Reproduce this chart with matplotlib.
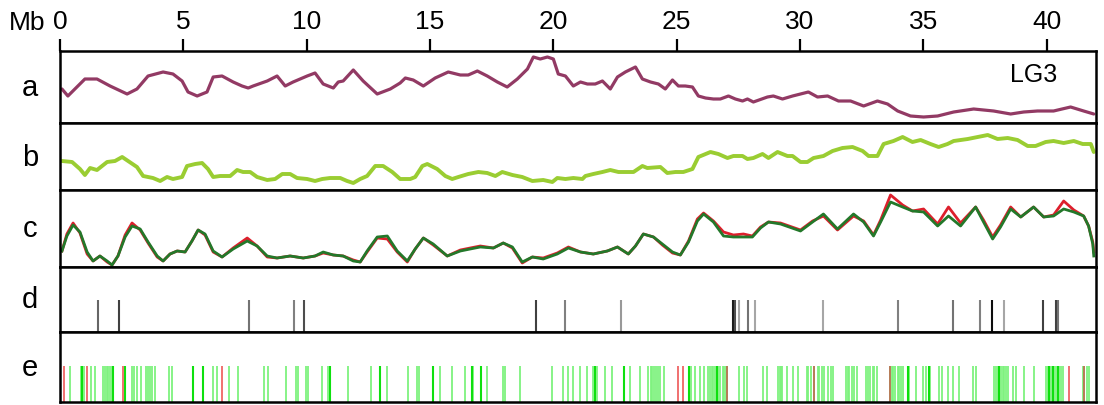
import matplotlib
matplotlib.use("Agg")
import matplotlib.pyplot as plt

plt.rcParams['font.family'] = ['Liberation Sans', 'DejaVu Sans']

# genome position (Mb) and track values
x_max = 42.0
mb_ticks = [0, 5, 10, 15, 20, 25, 30, 35, 40]

# track a
a_pos = [0.08, 0.32, 1.01, 1.50, 2.03, 2.72, 3.12, 3.57, 4.18, 4.58,
         4.95, 5.19, 5.56, 5.96, 6.21, 6.57, 7.02, 7.38, 7.63, 7.83,
         8.40, 8.80, 9.13, 9.45, 10.02, 10.34, 10.67, 11.08, 11.28, 11.48,
         11.89, 12.29, 12.86, 13.39, 13.79, 14.00, 14.32, 14.73, 15.21, 15.74,
         16.23, 16.55, 16.92, 17.32, 17.73, 18.13, 18.54, 18.95, 19.19, 19.47,
         19.76, 20.00, 20.20, 20.49, 20.81, 21.10, 21.38, 21.70, 21.99, 22.31,
         22.60, 22.92, 23.33, 23.61, 23.94, 24.26, 24.54, 24.83, 25.07, 25.35,
         25.64, 25.88, 26.17, 26.49, 26.77, 27.10, 27.38, 27.67, 27.87, 28.11,
         28.68, 28.92, 29.29, 29.70, 30.02, 30.34, 30.71, 31.12, 31.56, 32.05,
         32.58, 33.14, 33.55, 33.96, 34.48, 35.01, 35.58, 36.23, 37.04, 37.85,
         38.54, 39.07, 39.63, 40.28, 40.97, 41.50, 41.91]
a_val = [34, 27, 44, 44, 37, 29, 34, 47, 51, 49,
         42, 31, 27, 31, 46, 47, 41, 37, 35, 37,
         42, 47, 37, 41, 47, 50, 39, 35, 41, 42,
         53, 42, 29, 34, 40, 45, 43, 37, 45, 51,
         48, 48, 52, 47, 41, 36, 44, 54, 66, 64,
         66, 64, 49, 47, 37, 41, 39, 39, 42, 34,
         46, 51, 56, 44, 41, 39, 34, 43, 37, 37,
         36, 27, 25, 24, 24, 27, 24, 22, 24, 21,
         26, 27, 24, 27, 29, 31, 26, 27, 22, 22,
         17, 22, 19, 12, 7, 6, 7, 11, 14, 12,
         9, 11, 12, 12, 16, 12, 9]

# track b
b_pos = [0.08, 0.49, 0.81, 1.01, 1.22, 1.50, 1.91, 2.23, 2.52, 2.76,
         3.12, 3.37, 3.77, 4.06, 4.34, 4.58, 4.95, 5.15, 5.48, 5.76,
         6.00, 6.21, 6.49, 6.90, 7.18, 7.42, 7.71, 7.99, 8.40, 8.72,
         9.01, 9.33, 9.61, 10.02, 10.34, 10.63, 10.95, 11.36, 11.64, 11.89,
         12.17, 12.45, 12.78, 13.10, 13.47, 13.79, 14.20, 14.40, 14.69, 14.89,
         15.29, 15.62, 15.90, 16.15, 16.55, 16.96, 17.32, 17.65, 17.93, 18.34,
         18.74, 19.15, 19.59, 19.96, 20.16, 20.49, 20.81, 21.18, 21.30, 21.62,
         21.99, 22.31, 22.64, 23.00, 23.25, 23.61, 23.81, 24.34, 24.62, 24.95,
         25.27, 25.64, 25.88, 26.37, 26.69, 27.06, 27.30, 27.67, 27.87, 28.11,
         28.48, 28.72, 29.09, 29.49, 29.70, 30.02, 30.30, 30.55, 30.95, 31.32,
         31.72, 32.13, 32.54, 32.78, 33.14, 33.39, 33.79, 34.16, 34.56, 34.89,
         35.29, 35.62, 35.98, 36.23, 36.80, 37.20, 37.61, 38.01, 38.42, 38.82,
         39.23, 39.55, 39.96, 40.28, 40.69, 41.10, 41.46, 41.79, 41.91]
b_val = [29, 28, 21, 15, 22, 20, 28, 29, 33, 29,
         23, 14, 12, 9, 13, 11, 13, 24, 26, 27,
         21, 13, 14, 14, 20, 18, 18, 13, 10, 11,
         16, 16, 12, 11, 9, 11, 12, 12, 9, 7,
         11, 14, 24, 24, 18, 11, 11, 13, 24, 26,
         21, 14, 11, 13, 16, 18, 17, 14, 18, 15,
         13, 9, 10, 8, 12, 11, 12, 11, 14, 16,
         18, 20, 18, 18, 18, 24, 22, 23, 17, 18,
         18, 21, 33, 38, 36, 32, 34, 34, 31, 32,
         36, 32, 38, 34, 34, 28, 28, 32, 34, 39,
         42, 43, 39, 34, 34, 46, 49, 53, 48, 50,
         46, 43, 46, 49, 51, 53, 55, 51, 52, 50,
         44, 44, 48, 49, 47, 49, 46, 46, 38]

# track c (two series)
c_pos = [0.08, 0.28, 0.53, 0.81, 1.10, 1.34, 1.62, 1.91, 2.11, 2.35,
         2.64, 2.92, 3.25, 3.57, 3.94, 4.18, 4.46, 4.75, 5.07, 5.35,
         5.60, 5.88, 6.21, 6.57, 7.02, 7.59, 7.99, 8.40, 8.80, 9.33,
         9.86, 10.34, 10.67, 11.08, 11.48, 11.89, 12.17, 12.45, 12.86, 13.27,
         13.67, 14.08, 14.40, 14.73, 15.13, 15.70, 16.23, 16.63, 17.04, 17.57,
         17.97, 18.34, 18.74, 19.15, 19.59, 20.16, 20.61, 21.10, 21.62, 22.19,
         22.60, 23.04, 23.33, 23.65, 24.06, 24.42, 24.83, 25.15, 25.48, 25.84,
         26.09, 26.49, 26.90, 27.30, 27.71, 28.07, 28.40, 28.72, 29.21, 30.02,
         30.51, 30.95, 31.52, 32.17, 32.58, 32.98, 33.27, 33.67, 34.16, 34.56,
         35.01, 35.58, 36.02, 36.51, 37.12, 37.44, 37.81, 38.13, 38.54, 38.95,
         39.47, 39.88, 40.28, 40.69, 41.10, 41.50, 41.70, 41.87, 41.91]
c_green = [16, 31, 42, 35, 15, 6, 11, 6, 2, 11,
           30, 41, 38, 25, 11, 6, 13, 16, 15, 26,
           37, 33, 16, 10, 18, 26, 21, 11, 9, 11,
           9, 11, 15, 12, 11, 6, 5, 16, 30, 31,
           16, 6, 18, 29, 23, 11, 16, 18, 20, 19,
           24, 20, 5, 10, 8, 13, 19, 15, 13, 16,
           20, 13, 21, 33, 30, 23, 15, 12, 25, 46,
           53, 45, 31, 30, 30, 30, 39, 45, 43, 36,
           45, 53, 38, 53, 45, 31, 45, 65, 60, 56,
           55, 41, 51, 41, 60, 45, 28, 40, 58, 50,
           60, 50, 51, 58, 55, 51, 41, 23, 11]
c_red = [16, 33, 44, 34, 13, 6, 11, 5, 2, 11,
         32, 44, 37, 24, 10, 6, 13, 16, 15, 26,
         37, 32, 15, 10, 19, 29, 21, 10, 9, 11,
         9, 11, 14, 12, 11, 7, 5, 15, 29, 28,
         15, 5, 18, 29, 22, 11, 17, 19, 21, 19,
         24, 19, 4, 10, 9, 14, 20, 15, 13, 16,
         20, 13, 21, 33, 30, 22, 14, 12, 26, 48,
         54, 46, 35, 32, 33, 31, 40, 45, 44, 37,
         46, 51, 37, 51, 46, 32, 47, 72, 62, 56,
         58, 43, 60, 44, 60, 47, 30, 42, 60, 50,
         60, 50, 52, 66, 57, 51, 41, 25, 15]

# track d: marker positions and their grey intensity
d_pos = [1.54, 2.39, 7.67, 9.49, 9.90, 19.31, 20.49, 22.76, 27.30, 27.38, 27.51,
         27.91, 28.19, 30.95, 33.96, 36.19, 37.28, 37.77, 38.26, 39.84, 40.37, 40.45]
d_tone = [0.6, 0.75, 0.55, 0.5, 0.7, 0.75, 0.5, 0.4, 0.9, 0.7, 0.35,
          0.55, 0.35, 0.35, 0.5, 0.55, 0.5, 0.95, 0.35, 0.75, 0.75, 0.55]

# track e: marker positions by class
e_bright = [0.89, 2.15, 2.64, 5.40, 5.80, 10.95, 12.98, 15.13, 16.71, 17.08,
            21.70, 22.88, 25.52, 26.65, 34.36, 35.21, 38.05, 40.08, 40.24, 40.45]
e_light = [0.41, 0.85, 0.97, 1.26, 1.42, 1.74, 1.83, 1.91, 1.95, 2.03, 2.11, 2.92,
           3.00, 3.12, 3.29, 3.49, 3.57, 3.65, 3.73, 3.85, 4.42, 4.54, 6.21, 6.37,
           6.86, 7.22, 8.28, 8.44, 9.17, 9.57, 9.66, 9.98, 10.06, 10.63, 10.87, 11.68,
           12.62, 13.27, 14.12, 14.48, 14.56, 15.42, 15.90, 16.43, 16.75, 17.32, 17.97,
           18.05, 18.66, 19.96, 20.41, 20.61, 20.81, 21.10, 21.38, 21.62, 21.78, 22.11,
           22.39, 23.12, 23.53, 23.85, 23.94, 24.02, 24.10, 24.18, 24.26, 24.34, 24.50,
           25.60, 25.76, 25.96, 26.09, 26.29, 26.37, 26.45, 26.49, 26.57, 26.69, 26.77,
           26.86, 26.90, 26.98, 27.51, 27.75, 27.87, 28.52, 28.68, 29.09, 29.17, 29.21,
           29.29, 29.49, 29.70, 29.90, 30.30, 30.34, 30.43, 30.71, 30.79, 30.91, 30.99,
           31.12, 31.24, 31.32, 31.85, 31.93, 31.97, 32.09, 32.17, 32.33, 32.66, 32.74,
           32.82, 32.94, 32.98, 33.14, 33.75, 33.79, 33.87, 33.96, 34.00, 34.08, 34.16,
           34.40, 34.69, 34.97, 35.09, 35.29, 35.62, 35.77, 36.02, 36.19, 36.43, 37.00,
           37.12, 37.85, 37.93, 38.01, 38.13, 38.22, 38.26, 38.34, 38.42, 38.62, 38.74,
           39.07, 39.47, 39.96, 40.04, 40.16, 40.28, 40.37, 40.49, 40.57, 40.65, 41.46,
           41.62, 41.70]
e_red = [0.16, 1.10, 2.56, 6.57, 25.07, 25.27, 40.89]
e_mixed = [27.06, 30.55, 33.63, 41.50]

labels = ['a', 'b', 'c', 'd', 'e']

fig = plt.figure(figsize=(11.04, 4.06), dpi=100)
W, H = 1104.0, 406.0
left, right = 60 / W, 1096 / W
edges = [52, 124, 191, 268, 333, 403]   # panel borders (pixels from top)

axes = []
for i in range(5):
    top, bot = edges[i], edges[i + 1]
    ax = fig.add_axes([left, 1 - bot / H, right - left, (bot - top) / H])
    ax.set_xlim(0, x_max)
    for s in ax.spines.values():
        s.set_linewidth(1.8)
        s.set_color('black')
    ax.set_xticks([])
    ax.set_yticks([])
    fig.text(30 / W, 1 - (top + bot) / 2 / H, labels[i], fontsize=21,
             ha='center', va='center')
    axes.append(ax)

ax_a, ax_b, ax_c, ax_d, ax_e = axes

# a
ax_a.plot(a_pos, a_val, color='#923a64', lw=2.3, solid_joinstyle='round', solid_capstyle='round')
ax_a.set_ylim(0, 72)
ax_a.set_xticks(mb_ticks)
ax_a.xaxis.set_ticks_position('top')
ax_a.tick_params(axis='x', top=True, bottom=False, labeltop=True, labelbottom=False,
                 direction='out', length=9, width=1.6, labelsize=19, pad=4)
ax_a.text(0.963, 0.85, 'LG3', transform=ax_a.transAxes, fontsize=18, ha='right', va='top')
fig.text(9 / W, 1 - 30 / H, 'Mb', fontsize=19, ha='left', va='baseline')

# b
ax_b.plot(b_pos, b_val, color='#9acd32', lw=2.8, solid_joinstyle='round', solid_capstyle='round')
ax_b.set_ylim(0, 67)

# c
ax_c.plot(c_pos, c_red, color='#dd1f2c', lw=2.0, solid_joinstyle='round')
ax_c.plot(c_pos, c_green, color='#23782a', lw=2.0, solid_joinstyle='round')
ax_c.set_ylim(0, 77)

# d
ax_d.set_ylim(0, 1)
for p, t in zip(d_pos, d_tone):
    ax_d.vlines(p, 0, 0.49, color=str(round(1 - t, 2)), lw=1.5)

# e
ax_e.set_ylim(0, 1)
ax_e.vlines(e_light, 0, 0.52, color='#7ef27e', lw=1.3)
ax_e.vlines(e_bright, 0, 0.52, color='#0ee00e', lw=1.5)
ax_e.vlines(e_red, 0, 0.52, color='#f07070', lw=1.4)
ax_e.vlines(e_mixed, 0, 0.52, color='#b57a55', lw=1.4)

fig.savefig('out.png', dpi=100)
